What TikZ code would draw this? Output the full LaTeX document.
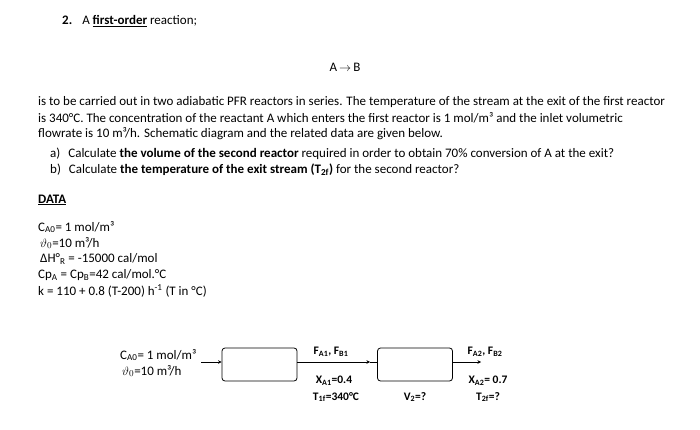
\documentclass[tikz,border=0pt]{standalone}
\usepackage{fontspec}
\setmainfont{Carlito}
\usetikzlibrary{arrows.meta}
\newcommand{\sbs}[1]{\textsubscript{#1}}
\begin{document}
\begin{tikzpicture}[x=1pt,y=-1pt,
  txt/.style={anchor=west,inner sep=0pt,font=\fontsize{13}{15}\selectfont},
  reactor/.style={draw,thick,rounded corners=3pt,minimum width=75pt,minimum height=33pt,inner sep=0pt},
  flow/.style={-{Stealth[length=3.5pt,width=3.5pt]},thick},
  lbl/.style={inner sep=0pt,font=\fontsize{11.5}{13}\selectfont\bfseries}]
\useasboundingbox (0,0) rectangle (700,430);
\node[txt] (h) at (62,21) {\textbf{2.}\hspace{10pt}A \underline{\textbf{first-order}} reaction;};
\node[txt,anchor=center] (eq) at (345,67) {A\,$\rightarrow$\,B};
\node[txt] (p1) at (38,102) {is to be carried out in two adiabatic PFR reactors in series. The temperature of the stream at the exit of the first reactor};
\node[txt] (p2) at (38,118) {is 340°C. The concentration of the reactant A which enters the first reactor is 1 mol/m³ and the inlet volumetric};
\node[txt] (p3) at (38,134) {flowrate is 10 m³/h. Schematic diagram and the related data are given below.};
\node[txt] (qa) at (50,154) {a)\hspace{8pt}Calculate \textbf{the volume of the second reactor} required in order to obtain 70\% conversion of A at the exit?};
\node[txt] (qb) at (50,170) {b)\hspace{8pt}Calculate \textbf{the temperature of the exit stream (T\sbs{2f})} for the second reactor?};
\node[txt] (dt) at (38,200) {\underline{\textbf{DATA}}};
\node[txt] (d1) at (38,227) {C\sbs{A0}= 1 mol/m³};
\node[txt] (d2) at (40,243) {$\vartheta_0$=10 m³/h};
\node[txt] (d3) at (40,259) {ΔH°\sbs{R} = -15000 cal/mol};
\node[txt] (d4) at (38,275) {Cp\sbs{A} = Cp\sbs{B}=42 cal/mol.°C};
\node[txt] (d5) at (38,291) {k = 110 + 0.8 (T-200) h\textsuperscript{-1} (T in °C)};
\node[reactor] (r1) at (259.5,364.5) {};
\node[reactor] (r2) at (415,364.5) {};
\node[txt] (in1) at (120,355) {C\sbs{A0}= 1 mol/m³};
\node[txt] (in2) at (122,371) {$\vartheta_0$=10 m³/h};
\coordinate (s) at (201,362);
\coordinate (e) at (481,362);
\draw[flow] (s) -- (r1.west |- s);
\draw[flow] (r1.east |- s) -- (370,362) coordinate (m);
\draw (m) -- (r2.west |- s);
\draw[flow] (r2.east |- s) -- (e);
\node[lbl] (f1) at (331,352) {F\sbs{A1}, F\sbs{B1}};
\node[lbl] (x1) at (334,381) {X\sbs{A1}=0.4};
\node[lbl] (t1) at (336,397) {T\sbs{1f}=340°C};
\node[lbl] (v2) at (415,397) {V\sbs{2}=?};
\node[lbl] (f2) at (485,352) {F\sbs{A2}, F\sbs{B2}};
\node[lbl] (x2) at (488,381) {X\sbs{A2}= 0.7};
\node[lbl] (t2) at (488,397) {T\sbs{2f}=?};
\end{tikzpicture}
\end{document}
